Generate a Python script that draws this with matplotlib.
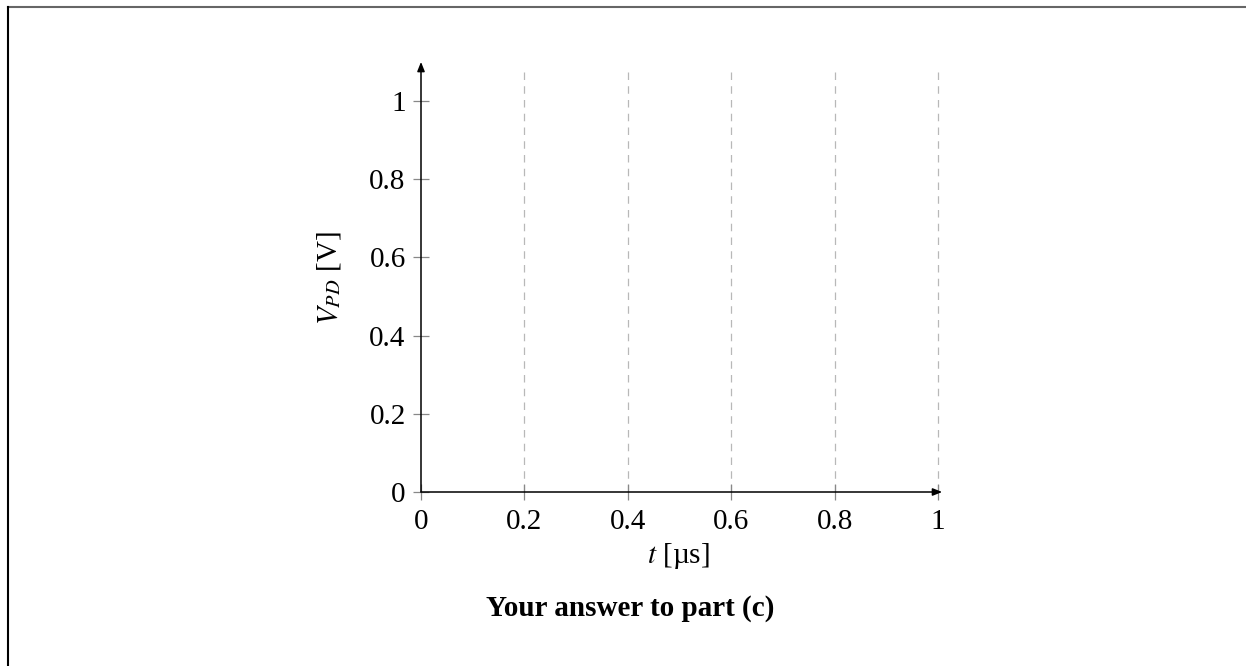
import matplotlib
matplotlib.use("Agg")
import matplotlib.pyplot as plt
from matplotlib.lines import Line2D

# данные графика (пустая сетка для ответа)
x_ticks = [0, 0.2, 0.4, 0.6, 0.8, 1]
x_tick_labels = ["0", "0.2", "0.4", "0.6", "0.8", "1"]
y_ticks = [0, 0.2, 0.4, 0.6, 0.8, 1]
y_tick_labels = ["0", "0.2", "0.4", "0.6", "0.8", "1"]
grid_x = [0.2, 0.4, 0.6, 0.8, 1]
x_label = r"$t$ [µs]"
y_label = r"$V_{PD}$ [V]"
caption = "Your answer to part (c)"

plt.rcParams["font.family"] = ["Liberation Serif", "DejaVu Serif"]
plt.rcParams["mathtext.fontset"] = "stix"

W, H = 1246, 666
fig = plt.figure(figsize=(W / 100, H / 100), dpi=100)

# положение осей в пикселях
x0, x1 = 421, 938
y0 = 492
ytop_val = 1.08
ytop = y0 - 391 * ytop_val
ax = fig.add_axes([x0 / W, (H - y0) / H, (x1 - x0) / W, (y0 - ytop) / H])
ax.set_xlim(0, 1)
ax.set_ylim(0, ytop_val)
for s in ax.spines.values():
    s.set_visible(False)

for gx in grid_x:
    ax.plot([gx, gx], [0, ytop_val], color="#b8b8b8", lw=0.9,
            ls=(0, (6, 5)), zorder=1, clip_on=False)

ax.set_xticks(x_ticks)
ax.set_xticklabels(x_tick_labels)
ax.set_yticks(y_ticks)
ax.set_yticklabels(y_tick_labels)
ax.tick_params(direction="inout", length=12, width=0.9, color="#888888",
               labelsize=21, pad=5)
ax.tick_params(axis="x", pad=6)

# оси со стрелками
arrow = dict(arrowstyle="-|>,head_length=0.55,head_width=0.22",
             color="black", lw=1.1, shrinkA=0, shrinkB=0)
ax.annotate("", xy=(1.008, 0), xytext=(0, 0), arrowprops=arrow,
            annotation_clip=False)
ax.annotate("", xy=(0, 1.1), xytext=(0, 0), arrowprops=arrow,
            annotation_clip=False)

fig.text(678 / W, 1 - 556 / H, x_label, ha="center", va="center", fontsize=21)
fig.text(329 / W, 1 - 278 / H, y_label, ha="center", va="center",
         fontsize=21, rotation=90)
fig.text(630 / W, 1 - 609 / H, caption, ha="center", va="center",
         fontsize=21, fontweight="bold")

# рамка страницы
fig.add_artist(Line2D([8 / W, 1], [1 - 6.5 / H, 1 - 6.5 / H],
                      transform=fig.transFigure, color="#666666", lw=1.5))
fig.add_artist(Line2D([8 / W, 8 / W], [0, 1 - 6.5 / H],
                      transform=fig.transFigure, color="black", lw=1.5))

fig.savefig("out.png", dpi=100)
